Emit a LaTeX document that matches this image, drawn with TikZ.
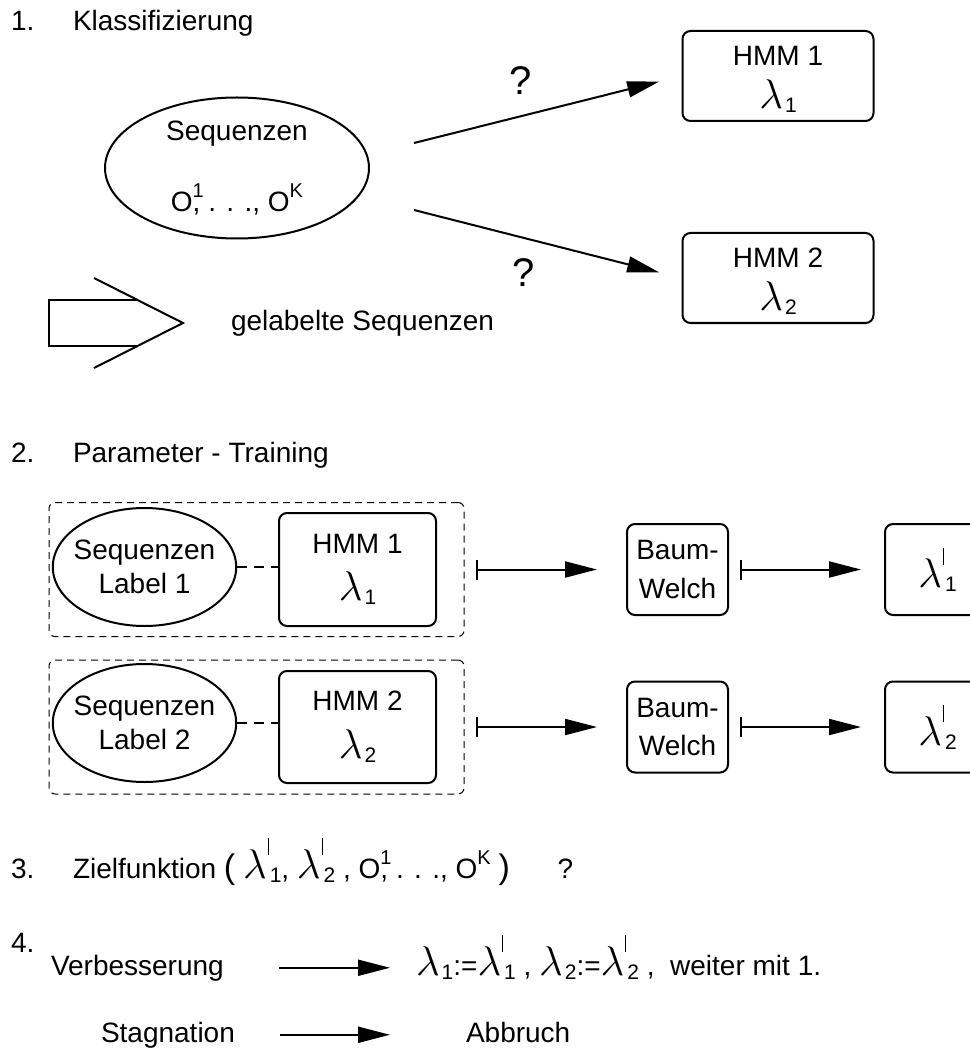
\documentclass[tikz,border=0pt]{standalone}
\usepackage{fontspec}
\setmainfont{Liberation Sans}
\usetikzlibrary{arrows.meta,positioning,shapes.geometric}

\newcommand{\lsub}[1]{\raisebox{-2pt}{\fontsize{10.5}{10.5}\selectfont #1}}
\newcommand{\lsym}{{\fontsize{20}{20}\selectfont$\lambda$}}
\newcommand{\lam}[1]{\lsym\kern1pt\lsub{#1}}
\newcommand{\lamd}[1]{\lsym\kern0.5pt\rlap{\rule[11.5pt]{0.5pt}{8.5pt}}\kern1pt\lsub{#1}}
\newcommand{\osup}[1]{\raisebox{7pt}{\fontsize{10}{10}\selectfont #1}}
\newcommand{\obs}{O\rlap{\osup{1}}, . . ., O\osup{K}}
\newcommand{\bigpar}[1]{{\fontsize{17}{17}\selectfont #1}}

\begin{document}
\begin{tikzpicture}[
  x=0.5pt, y=-0.5pt,
  >={Triangle[length=16pt,width=8pt]},
  line width=1pt,
  every node/.style={font=\fontsize{14}{16.8}\selectfont, inner sep=0pt},
  txt/.style={anchor=base west},
  qmark/.style={font=\fontsize{20}{20}\selectfont},
  seq node/.style={ellipse,draw,align=center},
  hmm node/.style={rectangle,rounded corners=4pt,draw,align=center},
  group box/.style={rectangle,draw,rounded corners=3pt,line width=0.5pt,dash pattern=on 3.5pt off 2.5pt},
  link/.style={dash pattern=on 5pt off 3.5pt},
  train/.style={{Bar[width=10pt]}->},
]
\useasboundingbox (0,0) rectangle (969,1053);

% 1. Klassifizierung
\node[txt] (n1) at (10,31) {1.};
\node[txt] (h1) at (72,31) {Klassifizierung};
\node[seq node, minimum width=132pt, minimum height=70.5pt] (seqs) at (237,168) {Sequenzen\\[19pt]\obs};
\node[hmm node, minimum width=95.5pt, minimum height=45pt] (hmmA) at (778,76) {\rule{0pt}{13pt}HMM 1\\[5pt]\lam{1}};
\node[hmm node, minimum width=95.5pt, minimum height=45pt] (hmmB) at (778,278) {\rule{0pt}{13pt}HMM 2\\[5pt]\lam{2}};
\coordinate (fromA) at (414,143);
\coordinate (fromB) at (414,210);
\draw[->, shorten >=11.5pt] (fromA) -- node[qmark, pos=0.4, above=10.5pt] {?} (hmmA.west);
\draw[->, shorten >=11.5pt] (fromB) -- node[qmark, pos=0.41, below=10pt] {?} (hmmB.west);

% legend arrow
\draw (138,300) -- (49,300) -- (49,346) -- (138,346);
\draw (94,278) -- (183,323) -- (94,368);
\node[txt] (legend) at (230,330) {gelabelte Sequenzen};

% 2. Parameter - Training
\node[txt] (n2) at (10,462) {2.};
\node[txt] (h2) at (72,462) {Parameter - Training};
\node[group box, minimum width=207.5pt, minimum height=67pt] (grpA) at (256.5,569.5) {};
\node[group box, minimum width=207.5pt, minimum height=67pt] (grpB) at (256.5,727) {};
\node[seq node, inner xsep=-3pt, minimum width=90.5pt, minimum height=59pt] (seqA) at (144.5,567) {Sequenzen\\Label 1};
\node[seq node, inner xsep=-3pt, minimum width=90.5pt, minimum height=59pt] (seqB) at (144.5,723) {Sequenzen\\Label 2};
\node[hmm node, minimum width=78.5pt, minimum height=56.5pt] (hmmC) at (357.5,569.5) {HMM 1\\[7pt]\lam{1}};
\node[hmm node, minimum width=78.5pt, minimum height=56pt] (hmmD) at (357.5,727) {HMM 2\\[7pt]\lam{2}};
\node[hmm node, minimum width=50.5pt, minimum height=45.5pt] (bwA) at (677.5,569.5) {Baum-\\[2.5pt]Welch};
\node[hmm node, minimum width=50.5pt, minimum height=45.5pt] (bwB) at (677.5,727) {Baum-\\[2.5pt]Welch};
\node[hmm node, minimum width=52.5pt, minimum height=45.5pt] (newA) at (937.5,569.5) {\lamd{1}};
\node[hmm node, minimum width=52.5pt, minimum height=45.5pt] (newB) at (937.5,727) {\lamd{2}};
\draw[link] (seqA.east) -- (seqA.east -| hmmC.west);
\draw[link] (seqB.east) -- (seqB.east -| hmmD.west);
\draw[train, shorten <=5.5pt, shorten >=14.5pt] (grpA.east) -- (bwA.west);
\draw[train, shorten <=5.5pt, shorten >=14.5pt] (grpB.east) -- (bwB.west);
\draw[train, shorten <=5.5pt, shorten >=11.5pt] (bwA.east) -- (newA.west);
\draw[train, shorten <=5.5pt, shorten >=11.5pt] (bwB.east) -- (newB.west);

% 3. Zielfunktion
\node[txt] (n3) at (10,878) {3.};
\node[txt] (h3) at (72,878) {Zielfunktion \bigpar{(} \lamd{1}, \lamd{2} , \obs\ \bigpar{)}\hspace{20pt} ?};

% 4. Entscheidung
\node[txt] (n4) at (10,952) {4.};
\node[txt] (verb) at (50,975) {Verbesserung};
\node[txt] (upd) at (415,975) {\lam{1}:=\lamd{1} , \lam{2}:=\lamd{2} ,\ \ weiter mit 1.};
\node[txt] (stag) at (100,1042) {Stagnation};
\node[txt] (stop) at (465,1042) {Abbruch};
\draw[->, shorten <=27pt, shorten >=12.5pt] (verb.east) -- (verb.east -| upd.west);
\draw[->, shorten <=22pt, shorten >=37.5pt] (stag.east) -- (stag.east -| stop.west);
\end{tikzpicture}
\end{document}
